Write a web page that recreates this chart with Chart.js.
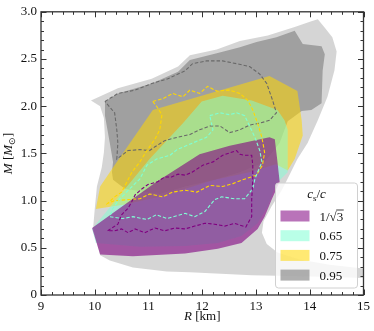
<!DOCTYPE html>
<html>
<head>
<meta charset="utf-8">
<script src="https://cdn.jsdelivr.net/npm/chart.js@4.4.0/dist/chart.umd.min.js"></script>
<style>
html, body { margin: 0; padding: 0; background: #fff; }
</style>
</head>
<body>
<canvas id="chart" width="374" height="331"></canvas>
<script>
// axis ticks
var rTicks = [9, 10, 11, 12, 13, 14, 15];
var mTicks = [0, 0.5, 1.0, 1.5, 2.0, 2.5, 3.0];
var legendLabels = ['1/√3', '0.65', '0.75', '0.95'];

// light grey envelope
var envR = [9.93, 10.43, 11.06, 11.55, 11.77, 12.27, 12.70, 13.22, 13.72, 14.03, 14.15, 14.28, 14.42, 14.50, 14.46, 14.33, 14.15, 13.96, 13.77, 13.63, 13.48, 13.29, 13.14, 13.11, 13.20, 13.40, 13.81, 14.37, 15.0, 15.0, 14.37, 13.63, 12.92, 11.77, 11.34, 10.71, 10.28, 10.10, 10.04, 9.97, 10.00, 10.04, 10.13, 10.17, 10.19, 10.17, 10.10];
var envM = [2.06, 2.19, 2.29, 2.42, 2.54, 2.60, 2.69, 2.75, 2.84, 2.90, 2.92, 2.83, 2.73, 2.58, 2.38, 2.10, 1.85, 1.61, 1.44, 1.28, 1.11, 0.94, 0.78, 0.66, 0.54, 0.45, 0.375, 0.32, 0.28, 0.18, 0.19, 0.20, 0.21, 0.24, 0.25, 0.29, 0.365, 0.42, 0.55, 0.71, 0.91, 1.15, 1.35, 1.51, 1.67, 1.875, 2.0];

// cs = 0.95 region
var darkR = [10.19, 10.43, 11.06, 11.55, 11.77, 12.27, 12.70, 13.01, 13.38, 13.72, 13.87, 14.22, 14.28, 14.24, 14.22, 14.03, 13.85, 13.59, 13.44, 13.16, 12.70, 12.23, 11.68, 11.21, 10.93, 10.56, 10.34, 10.32, 10.34, 10.28, 10.19];
var darkM = [2.05, 2.135, 2.24, 2.365, 2.49, 2.56, 2.625, 2.68, 2.73, 2.80, 2.66, 2.635, 2.55, 2.375, 2.03, 1.96, 1.95, 1.84, 1.61, 1.41, 1.30, 1.22, 1.15, 1.07, 1.09, 1.125, 1.22, 1.30, 1.41, 1.61, 1.90];

// cs = 0.75 region
var goldR = [10.02, 10.10, 10.34, 11.08, 13.25, 13.77, 13.85, 13.87, 13.72, 13.59, 13.37, 12.88, 12.23, 11.21, 10.56];
var goldM = [0.91, 1.15, 1.35, 1.96, 2.32, 2.16, 1.85, 1.69, 1.44, 1.32, 1.385, 1.30, 1.22, 1.04, 0.96];

// cs = 0.65 region
var aquaR = [9.95, 11.02, 11.64, 11.99, 12.38, 12.92, 13.40, 13.53, 13.59, 13.59, 13.38, 13.22, 13.03, 12.73, 12.29, 11.68, 10.84, 10.02];
var aquaM = [0.70, 1.44, 1.82, 2.05, 2.11, 2.06, 1.96, 1.85, 1.75, 1.30, 1.18, 0.94, 0.76, 0.625, 0.55, 0.52, 0.51, 0.55];

// cs = 1/sqrt(3) region
var purpR = [9.95, 11.15, 11.95, 12.51, 13.25, 13.35, 13.40, 13.44, 13.29, 13.16, 13.03, 12.73, 12.29, 11.68, 10.71, 10.10];
var purpM = [0.71, 1.20, 1.49, 1.58, 1.67, 1.65, 1.41, 1.20, 1.01, 0.83, 0.70, 0.55, 0.49, 0.44, 0.41, 0.43];

// dashed contours
var greyDashR = [10.19, 10.43, 10.75, 11.06, 11.36, 11.68, 11.82, 12.08, 12.38, 12.64, 12.88, 13.07, 13.20, 13.31, 13.38, 13.25, 13.07, 12.88, 12.70, 12.51, 12.33, 12.14, 11.95, 11.77, 11.53, 11.30, 11.12, 11.02, 10.84, 10.62, 10.41, 10.43, 10.41, 10.37];
var greyDashM = [2.05, 2.135, 2.17, 2.24, 2.29, 2.375, 2.45, 2.48, 2.48, 2.45, 2.42, 2.34, 2.24, 2.06, 1.93, 1.85, 1.82, 1.80, 1.75, 1.72, 1.79, 1.79, 1.75, 1.70, 1.67, 1.635, 1.57, 1.53, 1.54, 1.53, 1.44, 1.61, 1.75, 1.93];

var goldDashR = [11.08, 11.27, 11.45, 11.64, 11.77, 11.95, 12.10, 12.27, 12.51, 12.70, 12.85, 12.94, 13.03, 13.11, 13.16, 13.12, 13.01, 12.75, 12.57, 12.38, 12.14, 11.90, 11.68, 11.45, 11.27, 11.02, 10.84, 10.62, 10.37, 10.24, 10.37, 10.50, 10.60, 10.69, 10.84, 10.97, 11.12, 11.21, 11.25, 11.15];
var goldDashM = [2.05, 2.08, 2.135, 2.10, 2.17, 2.135, 2.21, 2.16, 2.17, 2.135, 2.06, 1.96, 1.82, 1.67, 1.51, 1.375, 1.27, 1.22, 1.18, 1.15, 1.16, 1.09, 1.11, 1.09, 1.04, 1.07, 1.02, 1.01, 1.00, 0.97, 1.04, 1.09, 1.20, 1.30, 1.41, 1.53, 1.65, 1.75, 1.91, 2.00];

var cyanDashR = [12.14, 12.33, 12.51, 12.64, 12.79, 12.88, 12.98, 13.07, 13.11, 13.03, 12.98, 12.94, 12.79, 12.60, 12.36, 12.23, 12.05, 11.86, 11.68, 11.34, 11.15, 10.97, 10.71, 10.52, 10.28, 10.34, 10.47, 10.65, 10.84, 10.97, 11.15, 11.40, 11.53, 11.82, 12.08, 12.20];
var cyanDashM = [1.90, 1.93, 1.91, 1.93, 1.90, 1.79, 1.67, 1.53, 1.41, 1.30, 1.23, 1.125, 1.02, 1.02, 1.04, 1.01, 0.885, 0.83, 0.865, 0.81, 0.85, 0.80, 0.83, 0.81, 0.83, 0.92, 1.02, 1.125, 1.23, 1.375, 1.44, 1.48, 1.54, 1.61, 1.67, 1.75];

var purpDashR = [10.24, 10.32, 10.43, 10.50, 10.62, 10.69, 10.75, 10.88, 10.99, 11.17, 11.30, 11.43, 11.55, 11.68, 11.81, 12.01, 12.20, 12.38, 12.64, 12.70, 12.79, 12.92, 12.94, 12.94, 12.92, 12.92, 12.81, 12.60, 12.42, 12.23, 12.05, 11.86, 11.68, 11.49, 11.30, 11.12, 10.93, 10.75, 10.62, 10.50, 10.37];
var purpDashM = [0.68, 0.71, 0.75, 0.85, 0.92, 0.99, 1.06, 1.125, 1.17, 1.20, 1.25, 1.25, 1.28, 1.27, 1.30, 1.375, 1.41, 1.48, 1.53, 1.49, 1.48, 1.48, 1.375, 1.22, 1.01, 0.83, 0.72, 0.76, 0.73, 0.75, 0.76, 0.73, 0.70, 0.71, 0.68, 0.71, 0.66, 0.70, 0.66, 0.70, 0.68];

var serif = "'Liberation Serif', 'Times New Roman', serif";
var legendColors = ['rgba(128,0,128,0.55)', 'rgba(127,255,212,0.55)', 'rgba(255,215,0,0.55)', 'rgba(128,128,128,0.62)'];

function toPoints(r, m) {
  var pts = r.map(function (v, i) { return { x: v, y: m[i] }; });
  pts.push(pts[0]);
  return pts;
}

function region(r, m, color, order) {
  return {
    data: toPoints(r, m),
    backgroundColor: color,
    borderColor: 'rgba(0,0,0,0)',
    borderWidth: 0,
    pointRadius: 0,
    fill: 'shape',
    tension: 0,
    order: order
  };
}

function contour(r, m, color, order) {
  return {
    data: toPoints(r, m),
    borderColor: color,
    borderWidth: 1.1,
    borderDash: [3.5, 2],
    pointRadius: 0,
    fill: false,
    tension: 0,
    order: order
  };
}

// draws text pieces in a row: [text, font, dy]
function pieces(ctx, parts, x, y) {
  var cx = x;
  parts.forEach(function (p) {
    ctx.font = p[1];
    ctx.fillText(p[0], cx, y + (p[2] || 0));
    cx += ctx.measureText(p[0]).width;
  });
}
function piecesWidth(ctx, parts) {
  var w = 0;
  parts.forEach(function (p) { ctx.font = p[1]; w += ctx.measureText(p[0]).width; });
  return w;
}

var frameAndLegend = {
  id: 'frameAndLegend',
  afterDraw: function (chart) {
    var ctx = chart.ctx, a = chart.chartArea, xs = chart.scales.x, ys = chart.scales.y;
    ctx.save();

    // inward ticks on all four sides
    ctx.strokeStyle = '#333';
    ctx.lineWidth = 1;
    ctx.beginPath();
    for (var i = 0; i <= 30; i++) {
      var px = Math.round(xs.getPixelForValue(9 + i * 0.2)) + 0.5;
      var len = i % 5 === 0 ? 5.5 : 3;
      ctx.moveTo(px, a.bottom); ctx.lineTo(px, a.bottom - len);
      ctx.moveTo(px, a.top); ctx.lineTo(px, a.top + len);
    }
    for (var j = 0; j <= 30; j++) {
      var py = Math.round(ys.getPixelForValue(j * 0.1)) + 0.5;
      var l2 = j % 5 === 0 ? 5.5 : 3;
      ctx.moveTo(a.left, py); ctx.lineTo(a.left + l2, py);
      ctx.moveTo(a.right, py); ctx.lineTo(a.right - l2, py);
    }
    ctx.stroke();
    ctx.lineWidth = 1.3;
    ctx.strokeRect(a.left, a.top, a.right - a.left, a.bottom - a.top);

    // axis titles
    ctx.fillStyle = '#111';
    ctx.textBaseline = 'alphabetic';
    var it = 'italic 13px ' + serif, up = '13px ' + serif, sm = '9px ' + serif;
    var xt = [['R', it], [' [km]', up]];
    pieces(ctx, xt, (a.left + a.right) / 2 - piecesWidth(ctx, xt) / 2, 320);

    var yt = [['M', it], [' [', up], ['M', it], ['\u2299', sm, 3], [']', up]];
    ctx.save();
    ctx.translate(12, (a.top + a.bottom) / 2);
    ctx.rotate(-Math.PI / 2);
    pieces(ctx, yt, -piecesWidth(ctx, yt) / 2, 0);
    ctx.restore();

    // legend box
    var lw = 82, lh = 105;
    var lx = a.right - 6 - lw, ly = a.bottom - 7 - lh, r = 3;
    ctx.beginPath();
    ctx.moveTo(lx + r, ly);
    ctx.arcTo(lx + lw, ly, lx + lw, ly + lh, r);
    ctx.arcTo(lx + lw, ly + lh, lx, ly + lh, r);
    ctx.arcTo(lx, ly + lh, lx, ly, r);
    ctx.arcTo(lx, ly, lx + lw, ly, r);
    ctx.closePath();
    ctx.fillStyle = 'rgba(255,255,255,0.8)';
    ctx.fill();
    ctx.strokeStyle = '#d0d0d0';
    ctx.lineWidth = 1;
    ctx.stroke();

    ctx.fillStyle = '#111';
    var tt = [['c', it], ['s', sm, 3], ['/', up], ['c', it]];
    pieces(ctx, tt, lx + lw / 2 - piecesWidth(ctx, tt) / 2, ly + 15);

    legendLabels.forEach(function (lab, k) {
      var cy = ly + 33 + k * 19.7;
      ctx.fillStyle = legendColors[k];
      ctx.fillRect(lx + 5, cy - 5.5, 29, 11);
      ctx.fillStyle = '#111';
      ctx.font = up;
      var tx = lx + 44, base = cy + 4.5;
      ctx.fillText(lab, tx, base);
      if (lab.indexOf('√') >= 0) {
        var w1 = ctx.measureText(lab.slice(0, lab.length - 1)).width;
        var w3 = ctx.measureText(lab.slice(-1)).width;
        ctx.strokeStyle = '#111';
        ctx.lineWidth = 0.8;
        ctx.beginPath();
        ctx.moveTo(tx + w1 - 0.5, base - 10.5);
        ctx.lineTo(tx + w1 + w3 + 0.5, base - 10.5);
        ctx.stroke();
      }
    });
    ctx.restore();
  }
};

new Chart(document.getElementById('chart').getContext('2d'), {
  type: 'line',
  data: {
    datasets: [
      contour(purpDashR, purpDashM, 'purple', 1),
      contour(cyanDashR, cyanDashM, 'aquamarine', 2),
      contour(goldDashR, goldDashM, 'gold', 3),
      contour(greyDashR, greyDashM, 'dimgray', 4),
      region(purpR, purpM, 'rgba(128,0,128,0.6)', 5),
      region(aquaR, aquaM, 'rgba(127,255,212,0.5)', 6),
      region(goldR, goldM, 'rgba(255,215,0,0.55)', 7),
      region(darkR, darkM, 'rgba(128,128,128,0.62)', 8),
      region(envR, envM, 'rgba(128,128,128,0.33)', 9)
    ]
  },
  options: {
    responsive: false,
    animation: false,
    events: [],
    layout: { padding: { top: 7, right: 10, left: 0, bottom: 0 } },
    plugins: { legend: { display: false }, tooltip: { enabled: false } },
    scales: {
      x: {
        type: 'linear', min: 9, max: 15,
        afterFit: function (s) { s.height = 36; },
        afterBuildTicks: function (s) { s.ticks = rTicks.map(function (v) { return { value: v }; }); },
        grid: { display: false, drawTicks: false },
        border: { display: false },
        ticks: { padding: 4, color: '#111', maxRotation: 0, autoSkip: false, font: { family: serif, size: 13 } }
      },
      y: {
        type: 'linear', min: 0, max: 3,
        afterFit: function (s) { s.width = 41; },
        afterBuildTicks: function (s) { s.ticks = mTicks.map(function (v) { return { value: v }; }); },
        grid: { display: false, drawTicks: false },
        border: { display: false },
        ticks: {
          padding: 4, color: '#111', autoSkip: false, font: { family: serif, size: 13 },
          callback: function (v) { return v === 0 ? '0' : v.toFixed(1); }
        }
      }
    }
  },
  plugins: [frameAndLegend]
});
</script>
</body>
</html>
